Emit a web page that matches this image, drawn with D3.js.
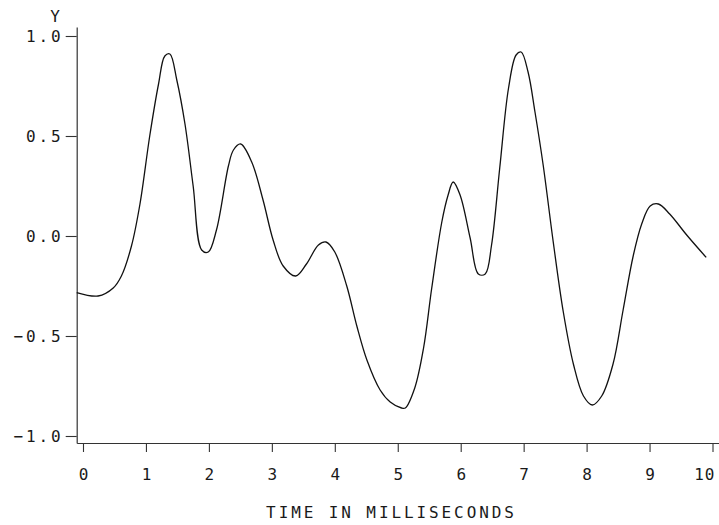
<!DOCTYPE html>
<html>
<head>
<meta charset="utf-8">
<script src="https://cdn.jsdelivr.net/npm/d3@7"></script>
<style>
  html, body { margin: 0; padding: 0; background: #fff; }
  svg { display: block; }
  text { font-family: "DejaVu Sans Mono", monospace; fill: #1a1a1a; }
</style>
</head>
<body>
<div class="chart"></div>
<script>

// signal: time (ms) and Y
const timeMs = [-0.10, 0.24, 0.48, 0.61, 0.77, 0.905, 1.06, 1.20, 1.30, 1.38, 1.49, 1.62, 1.75, 1.885, 1.99,
  2.12, 2.31, 2.39, 2.505, 2.68, 2.86, 3.02, 3.18, 3.38, 3.55, 3.74, 3.86, 4.00, 4.19, 4.35, 4.51, 4.72,
  4.88, 5.06, 5.12, 5.27, 5.41, 5.54, 5.70, 5.80, 5.88, 5.99, 6.15, 6.28, 6.39, 6.49, 6.62, 6.76, 6.88,
  6.96, 7.07, 7.18, 7.31, 7.47, 7.63, 7.79, 7.95, 8.09, 8.24, 8.42, 8.58, 8.74, 8.875, 9.01, 9.14, 9.32,
  9.59, 9.90]
const yValues = [-0.283, -0.30, -0.26, -0.20, -0.05, 0.16, 0.50, 0.76, 0.90, 0.91, 0.78, 0.56, 0.25, -0.07, -0.08,
  0.03, 0.35, 0.43, 0.46, 0.37, 0.18, -0.02, -0.15, -0.20, -0.14, -0.045, -0.03, -0.08, -0.25, -0.45, -0.62, -0.77,
  -0.83, -0.86, -0.86, -0.76, -0.56, -0.26, 0.07, 0.205, 0.27, 0.205, -0.01, -0.19, -0.19, -0.045, 0.34, 0.74, 0.905,
  0.92, 0.82, 0.62, 0.355, -0.03, -0.38, -0.64, -0.80, -0.845, -0.80, -0.64, -0.37, -0.10, 0.06, 0.15, 0.16, 0.11,
  0.005, -0.107]

const xTicks = [0, 1, 2, 3, 4, 5, 6, 7, 8, 9, 10]
const yTicks = [-1, -0.5, 0, 0.5, 1]

const xTitle = 'TIME IN MILLISECONDS'
const yTitle = 'Y'

const width = 719
const height = 525

const data = timeMs.map((t, i) => ({t: t, v: yValues[i]}))

const x = d3.scaleLinear().domain([-0.1, 10.1]).range([76.7, 718.8])
const y = d3.scaleLinear().domain([-1.035, 1.045]).range([443, 27])

const svg = d3.select('.chart')
  .append('svg')
  .attr('width', width)
  .attr('height', height)

const fs = 16
const ls = 2.9 // plotter-style wide lettering

// x axis
const xAxis = svg.append('g')
  .attr('transform', `translate(0,${y.range()[0]})`)
  .call(d3.axisBottom(x).tickValues(xTicks).tickSize(9).tickSizeOuter(0).tickFormat(d3.format('d')))

xAxis.select('.domain').attr('stroke', '#333').attr('stroke-width', 1.2)
xAxis.selectAll('.tick line').attr('stroke', '#333').attr('stroke-width', 1.1)
xAxis.selectAll('.tick text')
  .attr('y', 37)
  .attr('dy', 0)
  .attr('dx', ls / 2)
  .style('font-size', fs + 'px')
  .style('letter-spacing', ls + 'px')
  .attr('fill', '#1a1a1a')

// last label sits against the right edge
xAxis.selectAll('.tick text').filter(d => d === 10)
  .attr('text-anchor', 'end')
  .attr('dx', 2.5)
  .style('letter-spacing', '1px')

// y axis
const yAxis = svg.append('g')
  .attr('transform', `translate(${x.range()[0]},0)`)
  .call(d3.axisLeft(y).tickValues(yTicks).tickSize(11).tickSizeOuter(0).tickFormat(d3.format('.1f')))

yAxis.select('.domain').attr('stroke', '#333').attr('stroke-width', 1.2)
yAxis.selectAll('.tick line').attr('stroke', '#333').attr('stroke-width', 1.1)
yAxis.selectAll('.tick text')
  .attr('x', -16 + ls)
  .attr('dy', '0.36em')
  .style('font-size', fs + 'px')
  .style('letter-spacing', ls + 'px')
  .attr('fill', '#1a1a1a')

svg.selectAll('g').attr('font-family', null).attr('font-size', null)

// titles
svg.append('text')
  .attr('x', 390 + ls / 2)
  .attr('y', 518)
  .attr('text-anchor', 'middle')
  .style('font-size', fs + 'px')
  .style('letter-spacing', ls + 'px')
  .text(xTitle)

svg.append('text')
  .attr('x', 55)
  .attr('y', 22)
  .attr('text-anchor', 'middle')
  .style('font-size', fs + 'px')
  .text(yTitle)

// curve
const line = d3.line()
  .x(d => x(d.t))
  .y(d => y(d.v))
  .curve(d3.curveCatmullRom.alpha(0.5))

svg.append('path')
  .datum(data)
  .attr('fill', 'none')
  .attr('stroke', '#111')
  .attr('stroke-width', 1.3)
  .attr('stroke-linejoin', 'round')
  .attr('d', line)

</script>
</body>
</html>
